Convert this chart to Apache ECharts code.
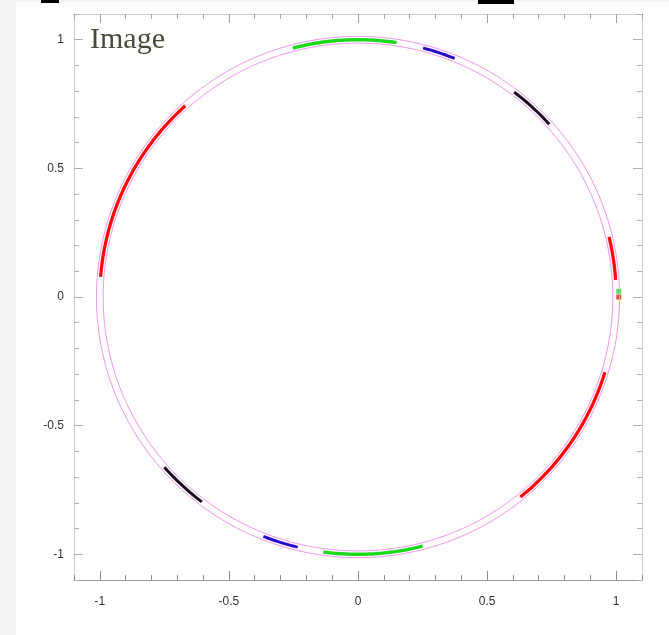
<!DOCTYPE html>
<html><head><meta charset="utf-8">
<script src="https://cdn.jsdelivr.net/npm/echarts@6/dist/echarts.min.js"></script>
<style>html,body{margin:0;padding:0;background:#fff}#c{width:669px;height:635px}</style>
</head><body><div id="c"></div><script>
// ---- data ----
const xTickLabels = [-1, -0.5, 0, 0.5, 1];
const yTickLabels = [-1, -0.5, 0, 0.5, 1];
const ringRadii = [0.987, 1.013];
const arcRadius = 1.0;
// arcs: [start angle deg, end angle deg] (math convention)
const redArcs = [[132, 175.5], [3.8, 13.5], [-51, -17]];
const greenArcs = [[81.4, 104.6], [-97.7, -75.5]];
const blueArcs = [[68, 75.4], [-111.5, -103.5]];
const blackArcs = [[42.2, 52.8], [-138.6, -127.2]];
const greenDots = [[1.01, 0.022]];
const redDots = [[1.01, 0.0]];

function arcPoints(r, a0, a1) {
  const pts = [];
  const n = Math.max(2, Math.ceil(Math.abs(a1 - a0) / 0.5));
  for (let i = 0; i <= n; i++) {
    const a = (a0 + (a1 - a0) * i / n) * Math.PI / 180;
    pts.push([r * Math.cos(a), r * Math.sin(a)]);
  }
  return pts;
}

const series = [];
ringRadii.forEach(r => series.push({
  type: 'line', data: arcPoints(r, 0, 360), showSymbol: false, silent: true,
  lineStyle: { color: '#ec94ec', width: 1 }
}));
function addArcs(arcs, color, w) {
  arcs.forEach(a => series.push({
    type: 'line', data: arcPoints(arcRadius, a[0], a[1]), showSymbol: false, silent: true,
    lineStyle: { color: color, width: w, cap: 'butt' }
  }));
}
addArcs(redArcs, '#ff0a0a', 3.3);
addArcs(greenArcs, '#1ed81e', 3.5);
addArcs(blueArcs, '#2a0ccc', 3);
addArcs(blackArcs, '#1a1020', 3);
series.push({ type: 'scatter', data: greenDots, symbol: 'rect', symbolSize: 5, itemStyle: { color: '#3ccc4a' }, silent: true });
series.push({ type: 'scatter', data: redDots, symbol: 'rect', symbolSize: 5, itemStyle: { color: '#d02020' }, silent: true });

const labelFmt = v => {
  const d = v * 2;
  if (Math.abs(d - Math.round(d)) < 1e-6 && Math.abs(v) <= 1.0001) return String(Number(v.toFixed(1)));
  return '';
};
const labelStyle = { fontFamily: 'Liberation Sans, Arial, sans-serif', fontSize: 12, color: '#333' };

function axisPair(pos, lineColor, tickColor, labels, majors, margin) {
  return [
    {
      type: 'value', position: pos, min: -1.1, max: 1.1, interval: 0.1,
      axisLine: { show: true, onZero: false, lineStyle: { color: lineColor, width: 1 } },
      axisTick: { show: true, inside: true, length: 5, lineStyle: { color: tickColor } },
      axisLabel: labels ? Object.assign({ show: true, formatter: labelFmt, margin: margin }, labelStyle) : { show: false },
      splitLine: { show: false }
    },
    {
      type: 'value', position: pos, min: -1.1, max: 1.1, interval: 0.1,
      axisLine: { show: false, onZero: false },
      axisTick: { show: true, inside: true, length: 9, customValues: majors, lineStyle: { color: tickColor } },
      axisLabel: { show: false },
      splitLine: { show: false }
    }
  ];
}

const chart = echarts.init(document.getElementById('c'), null, { renderer: 'canvas' });
chart.setOption({
  backgroundColor: '#ffffff',
  animation: false,
  grid: { left: 74, top: 14, width: 568, height: 566, containLabel: false },
  xAxis: [].concat(
    axisPair('bottom', '#9a9a9a', '#8a8a8a', true, xTickLabels, 16),
    axisPair('top', '#d0d0d0', '#a0a0a0', false, xTickLabels, 8)
  ),
  yAxis: [].concat(
    axisPair('left', '#cfcfcf', '#b0b0b0', true, yTickLabels, 10),
    axisPair('right', '#d0d0d0', '#b0b0b0', false, yTickLabels, 8)
  ),
  graphic: [
    { type: 'rect', left: 0, top: 0, shape: { width: 16, height: 635 }, style: { fill: '#f2f3f5' }, silent: true },
    { type: 'rect', left: 0, top: 0, shape: { width: 669, height: 2 }, style: { fill: '#f2f3f5' }, silent: true },
    { type: 'rect', left: 41, top: 0, shape: { width: 18, height: 3 }, style: { fill: '#000' }, silent: true },
    { type: 'rect', left: 478, top: 0, shape: { width: 36, height: 4 }, style: { fill: '#000' }, silent: true },
    { type: 'text', left: 90, top: 25, style: { text: 'Image', font: '30px "Liberation Serif", serif', fill: '#4a4a3a' }, silent: true }
  ],
  series: series
});
</script></body></html>
